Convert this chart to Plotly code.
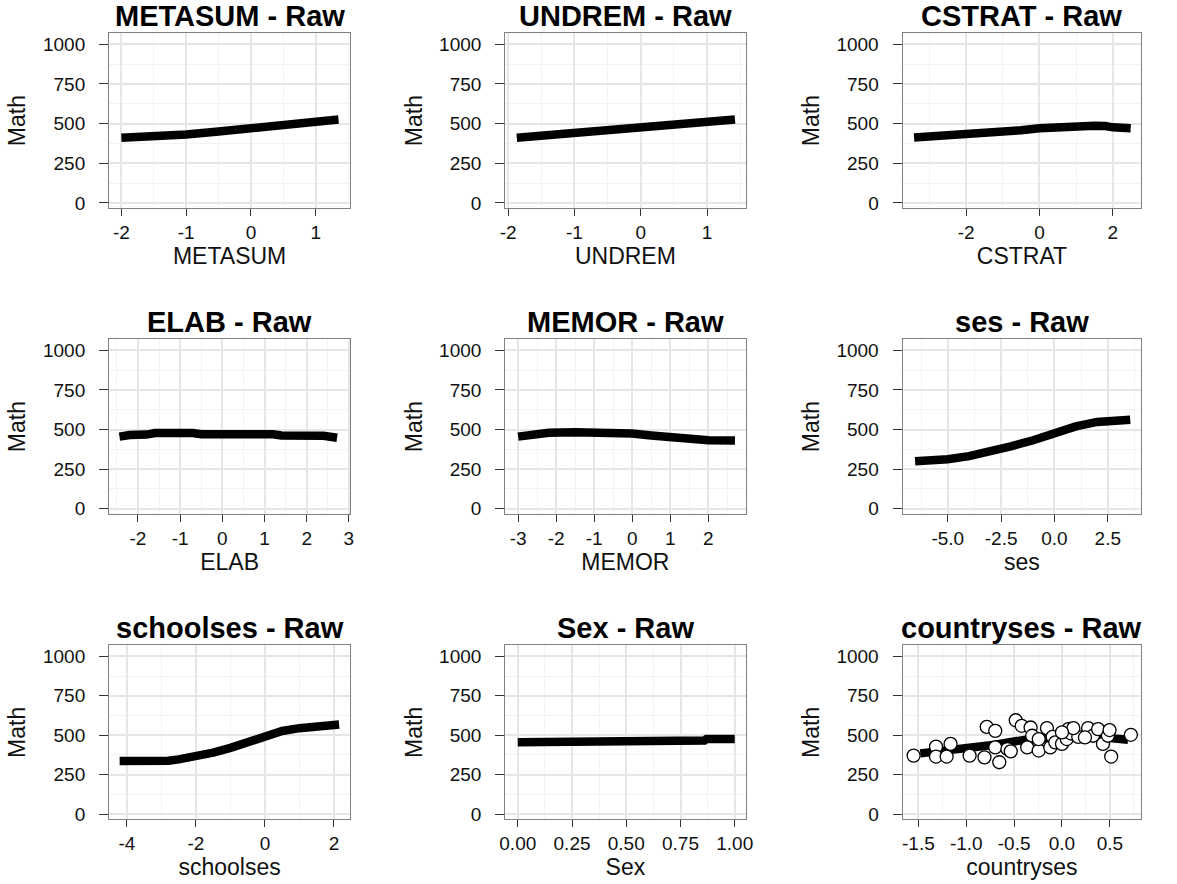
import plotly.graph_objects as go

# ---- data: predicted Math score along each predictor (raw scale) ----
metasum_x = [-2.0, -1.5, -1.0, -0.5, 0.0, 0.5, 1.0, 1.35]
metasum_math = [410, 418, 431, 450, 471, 491, 513, 525]

undrem_x = [-1.87, -1.5, -1.0, -0.5, 0.0, 0.5, 1.0, 1.42]
undrem_math = [410, 423, 441, 456, 472, 489, 508, 525]

cstrat_x = [-3.42, -3.0, -2.5, -2.0, -1.5, -1.0, -0.5, 0.0, 0.5, 1.0, 1.5, 1.8, 2.0, 2.49]
cstrat_math = [412, 418, 422, 428, 435, 445, 458, 470, 478, 485, 486, 484, 476, 470]

elab_x = [-2.44, -2.2, -1.8, -1.6, -0.7, -0.5, 1.2, 1.4, 2.4, 2.55, 2.72]
elab_math = [455, 465, 468, 478, 478, 470, 470, 462, 460, 452, 448]

memor_x = [-3.0, -2.6, -2.2, -1.5, -0.7, -0.4, 0.0, 0.5, 1.0, 1.5, 2.0, 2.7]
memor_math = [455, 468, 480, 482, 482, 475, 474, 462, 450, 440, 432, 430]

ses_x = [-6.53, -6.0, -5.0, -4.0, -3.0, -2.0, -1.0, 0.0, 1.0, 2.0, 3.0, 3.55]
ses_math = [300, 302, 312, 332, 360, 395, 432, 475, 520, 548, 560, 562]

schoolses_x = [-4.21, -3.8, -3.6, -3.2, -2.8, -2.5, -2.0, -1.5, -1.0, -0.5, 0.0, 0.5, 1.0, 1.5, 2.0, 2.15]
schoolses_math = [337, 337, 325, 335, 338, 347, 362, 390, 420, 455, 497, 527, 545, 558, 560, 568]

sex_x = [0.0, 0.35, 0.36, 0.86, 0.87, 1.0]
sex_math = [456, 456, 466, 466, 477, 477]

countryses_x = [-1.48, -1.36, -1.09, -0.7, -0.36, -0.1, 0.2, 0.45, 0.69]
countryses_math = [385, 392, 415, 440, 474, 490, 495, 485, 472]

# country-level observed means
country_x = [-1.55, -1.316, -1.164, -1.316, -1.205, -0.965, -0.81, -0.786, -0.697, -0.697,
             -0.655, -0.57, -0.535, -0.483, -0.421, -0.328, -0.311, -0.363, -0.243, -0.243,
             -0.157, -0.122, -0.098, -0.07, 0.0, 0.05, 0.067, 0.095, 0.17, 0.119,
             0.273, 0.325, 0.377, 0.428, 0.48, 0.497, 0.514, 0.72, 0.24, 0.0]
country_math = [371, 428, 445, 365, 365, 371, 360, 553, 528, 423,
                329, 413, 398, 595, 560, 549, 497, 423, 403, 476,
                545, 423, 490, 455, 445, 476, 539, 511, 490, 545,
                545, 497, 539, 445, 497, 533, 365, 503, 486, 518]

y_ticks = [0, 250, 500, 750, 1000]
y_ticktext = ["0", "250", "500", "750", "1000"]

panels = [
    ("METASUM", metasum_x, metasum_math, [-2, -1, 0, 1], ["-2", "-1", "0", "1"], [-2.19, 1.53]),
    ("UNDREM", undrem_x, undrem_math, [-2, -1, 0, 1], ["-2", "-1", "0", "1"], [-2.045, 1.58]),
    ("CSTRAT", cstrat_x, cstrat_math, [-2, 0, 2], ["-2", "0", "2"], [-3.735, 2.78]),
    ("ELAB", elab_x, elab_math, [-2, -1, 0, 1, 2, 3], ["-2", "-1", "0", "1", "2", "3"], [-2.686, 3.03]),
    ("MEMOR", memor_x, memor_math, [-3, -2, -1, 0, 1, 2], ["-3", "-2", "-1", "0", "1", "2"], [-3.34, 2.98]),
    ("ses", ses_x, ses_math, [-5.0, -2.5, 0.0, 2.5], ["-5.0", "-2.5", "0.0", "2.5"], [-7.12, 4.07]),
    ("schoolses", schoolses_x, schoolses_math, [-4, -2, 0, 2], ["-4", "-2", "0", "2"], [-4.517, 2.47]),
    ("Sex", sex_x, sex_math, [0.0, 0.25, 0.5, 0.75, 1.0], ["0.00", "0.25", "0.50", "0.75", "1.00"], [-0.058, 1.05]),
    ("countryses", countryses_x, countryses_math, [-1.5, -1.0, -0.5, 0.0, 0.5],
     ["-1.5", "-1.0", "-0.5", "0.0", "0.5"], [-1.666, 0.829]),
]

Y_RANGE = [-33, 1070]
W, H = 1177, 884

# panel frames in pixels (left, right) per column and (top, bottom) per row
cols_px = [(104.3, 348.3), (505.2, 748.5), (907.3, 1149.0)]
rows_px = [(33.3, 209.3), (341.2, 516.8), (649.0, 824.0)]

FONT = "Liberation Sans"
GRID = "#E6E6E6"
MINOR_GRID = "#F3F3F3"
FRAME = "#808080"
TICK = "#333333"
TXT = "#111111"


def minor_between(vals, lo, hi):
    step = vals[1] - vals[0]
    cand = [vals[0] - step / 2] + [v + step / 2 for v in vals]
    return [c for c in cand if lo <= c <= hi]


fig = go.Figure()
layout = dict(
    width=W, height=H, margin=dict(l=0, r=0, t=0, b=0),
    paper_bgcolor="white", plot_bgcolor="white", showlegend=False,
    font=dict(family=FONT, color=TXT),
    annotations=[],
)

for i, (name, xs, ys, xt, xtt, xr) in enumerate(panels):
    r, c = divmod(i, 3)
    suffix = "" if i == 0 else str(i + 1)
    xa, ya = "x" + suffix, "y" + suffix
    fig.add_trace(go.Scatter(x=xs, y=ys, mode="lines", xaxis=xa, yaxis=ya,
                             line=dict(color="black", width=8.5), hoverinfo="skip"))
    if name == "countryses":
        fig.add_trace(go.Scatter(x=country_x, y=country_math, mode="markers", xaxis=xa, yaxis=ya,
                                 marker=dict(size=13, color="white",
                                             line=dict(color="black", width=1.3))))
    l, rt = cols_px[c]
    t, b = rows_px[r]
    xdom = [l / W, rt / W]
    ydom = [1 - b / H, 1 - t / H]
    layout["xaxis" + suffix] = dict(
        domain=xdom, anchor=ya, range=xr, tickmode="array", tickvals=xt, ticktext=xtt,
        showgrid=True, gridcolor=GRID, gridwidth=1.5, zeroline=False,
        showline=True, linecolor=FRAME, linewidth=1, mirror=True,
        ticks="outside", ticklen=7, tickwidth=1.3, tickcolor=TICK,
        tickfont=dict(size=19, family=FONT, color=TXT),
        minor=dict(tickmode="array", tickvals=minor_between(xt, xr[0], xr[1]),
                   showgrid=True, gridcolor=MINOR_GRID, gridwidth=1, ticks=""),
        title=dict(text=name, font=dict(size=23, family=FONT, color=TXT), standoff=1),
    )
    layout["yaxis" + suffix] = dict(
        domain=ydom, anchor=xa, range=Y_RANGE, tickmode="array", tickvals=y_ticks,
        ticktext=y_ticktext,
        showgrid=True, gridcolor=GRID, gridwidth=1.5, zeroline=False,
        showline=True, linecolor=FRAME, linewidth=1, mirror=True,
        ticks="outside", ticklen=9, tickwidth=1.3, tickcolor=TICK, ticklabelstandoff=10,
        tickfont=dict(size=19, family=FONT, color=TXT),
        minor=dict(tickmode="array", tickvals=minor_between(y_ticks, Y_RANGE[0], Y_RANGE[1]),
                   showgrid=True, gridcolor=MINOR_GRID, gridwidth=1, ticks=""),
        title=dict(text="Math", font=dict(size=23, family=FONT, color=TXT), standoff=10),
    )
    layout["annotations"].append(dict(
        text=f"{name} - Raw", xref="paper", yref="paper",
        x=(xdom[0] + xdom[1]) / 2, y=ydom[1], xanchor="center", yanchor="bottom",
        showarrow=False, yshift=-1,
        font=dict(size=29, family=FONT, color="black", weight="bold"),
    ))

fig.update_layout(**layout)
fig.write_html("out.html")
